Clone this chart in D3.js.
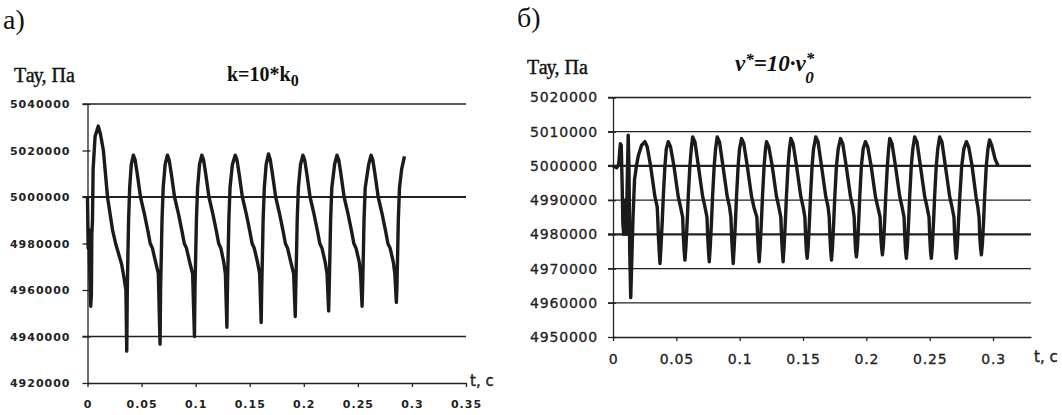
<!DOCTYPE html>
<html>
<head>
<meta charset="utf-8">
<script src="https://cdn.jsdelivr.net/npm/d3@7"></script>
<style>
  body { margin: 0; background: #fff; }
  svg { display: block; }
  .tickL text { font-family: "DejaVu Sans", sans-serif; font-weight: bold; font-size: 11px; letter-spacing: 1px; fill: #222; }
  .tickR text { font-family: "DejaVu Sans", sans-serif; font-size: 14px; letter-spacing: 0.8px; fill: #222; stroke: #222; stroke-width: 0.3px; }
  .serif { font-family: "Liberation Serif", "Times New Roman", serif; fill: #111; }
</style>
</head>
<body>
<svg id="chart" width="1062" height="415"></svg>
<script>
// left chart: k = 10*k0
var yTicksL = [4920000, 4940000, 4960000, 4980000, 5000000, 5020000, 5040000];
var gridL = [5040000, 5000000, 4940000];
var xTicksL = [0, 0.05, 0.1, 0.15, 0.2, 0.25, 0.3, 0.35];
var seriesL = [
  [0.0000, 5000000], [0.0006, 4978000], [0.0012, 4986000], [0.0020, 4970000], [0.0030, 4953000],
  [0.0036, 4958000], [0.0040, 4984000], [0.0046, 4990000], [0.0052, 5012000], [0.0070, 5026000],
  [0.0100, 5030500], [0.0120, 5027000], [0.0147, 5020000], [0.0185, 5000000], [0.0231, 4986000],
  [0.0260, 4980000], [0.0285, 4976000], [0.0316, 4971000], [0.0335, 4966000], [0.0355, 4960000],
  [0.0363, 4933700], [0.0368, 4960000], [0.0374, 4976000], [0.0380, 4990000], [0.0390, 5004000],
  [0.0405, 5014000], [0.0424, 5018000], [0.0440, 5016000], [0.0460, 5010000], [0.0490, 5000000],
  [0.0525, 4993000], [0.0560, 4985000], [0.0580, 4980000], [0.0600, 4978000], [0.0630, 4972000],
  [0.0655, 4967000], [0.0671, 4936700], [0.0676, 4961000], [0.0683, 4976000], [0.0689, 4990000],
  [0.0700, 5004000], [0.0718, 5014000], [0.0739, 5018000], [0.0755, 5016000], [0.0775, 5010000],
  [0.0805, 5000000], [0.0840, 4993000], [0.0875, 4985000], [0.0895, 4980000], [0.0915, 4978000],
  [0.0945, 4972000], [0.0972, 4967000], [0.0989, 4940000], [0.0994, 4961000], [0.1001, 4976000],
  [0.1007, 4990000], [0.1018, 5004000], [0.1036, 5014000], [0.1057, 5018000], [0.1073, 5016000],
  [0.1093, 5010000], [0.1123, 5000000], [0.1158, 4993000], [0.1193, 4985000], [0.1213, 4980000],
  [0.1233, 4978000], [0.1260, 4972000], [0.1275, 4967000], [0.1289, 4944000], [0.1294, 4961000],
  [0.1301, 4976000], [0.1307, 4990000], [0.1318, 5004000], [0.1340, 5014000], [0.1366, 5018000],
  [0.1382, 5016000], [0.1402, 5010000], [0.1432, 5000000], [0.1467, 4993000], [0.1502, 4985000],
  [0.1522, 4980000], [0.1542, 4978000], [0.1572, 4972000], [0.1592, 4967000], [0.1606, 4946000],
  [0.1611, 4961000], [0.1618, 4976000], [0.1624, 4990000], [0.1635, 5004000], [0.1652, 5014000],
  [0.1674, 5018500], [0.1690, 5016000], [0.1710, 5010000], [0.1740, 5000000], [0.1775, 4993000],
  [0.1810, 4985000], [0.1830, 4980000], [0.1850, 4978000], [0.1880, 4972000], [0.1906, 4967000],
  [0.1921, 4948600], [0.1926, 4961000], [0.1933, 4976000], [0.1939, 4990000], [0.1950, 5004000],
  [0.1970, 5014000], [0.1992, 5018000], [0.2008, 5016000], [0.2028, 5010000], [0.2058, 5000000],
  [0.2093, 4993000], [0.2128, 4985000], [0.2148, 4980000], [0.2168, 4978000], [0.2198, 4972000],
  [0.2215, 4967000], [0.2230, 4951000], [0.2235, 4961000], [0.2242, 4976000], [0.2248, 4990000],
  [0.2259, 5004000], [0.2285, 5014000], [0.2307, 5018000], [0.2323, 5016000], [0.2343, 5010000],
  [0.2373, 5000000], [0.2408, 4993000], [0.2443, 4985000], [0.2463, 4980000], [0.2483, 4978000],
  [0.2513, 4972000], [0.2525, 4967000], [0.2539, 4953000], [0.2544, 4961000], [0.2551, 4976000],
  [0.2557, 4990000], [0.2568, 5004000], [0.2600, 5014000], [0.2622, 5018000], [0.2638, 5016000],
  [0.2658, 5010000], [0.2688, 5000000], [0.2723, 4993000], [0.2758, 4985000], [0.2778, 4980000],
  [0.2798, 4978000], [0.2828, 4972000], [0.2842, 4967000], [0.2856, 4954700], [0.2861, 4961000],
  [0.2868, 4976000], [0.2874, 4990000], [0.2885, 5004000], [0.2905, 5012000], [0.2931, 5017500]
];

// right chart: nu* = 10*nu0*
var yTicksR = [4950000, 4960000, 4970000, 4980000, 4990000, 5000000, 5010000, 5020000];
var gridR = [4960000, 4970000, 4980000, 4990000, 5000000, 5010000, 5020000];
var gridBoldR = [5000000, 4980000];
var xTicksR = [0, 0.05, 0.1, 0.15, 0.2, 0.25, 0.3];
var seriesR = [
  [0.0000, 5000000], [0.0030, 4999500], [0.0045, 5000500], [0.0058, 5006500], [0.0065, 5006000],
  [0.0072, 4995000], [0.0078, 4983000], [0.0085, 4980000], [0.0092, 4990000], [0.0098, 4982000],
  [0.0105, 4980000], [0.0112, 4995000], [0.0120, 5009000], [0.0126, 5000000], [0.0132, 4975000],
  [0.0140, 4961500], [0.0148, 4972000], [0.0158, 4985000], [0.0170, 4996000], [0.0185, 5000000],
  [0.0200, 5003000], [0.0225, 5006000],
  [0.0252, 5007100], [0.0270, 5005600], [0.0297, 5000000], [0.0331, 4991000], [0.0349, 4988000],
  [0.0353, 4985000], [0.0359, 4979000], [0.0365, 4975000], [0.0371, 4971500], [0.0379, 4976500],
  [0.0389, 4984000], [0.0397, 4991000], [0.0410, 5000000], [0.0421, 5005000],
  [0.0436, 5007100], [0.0454, 5005600], [0.0481, 5000000], [0.0515, 4991000], [0.0533, 4988000],
  [0.0550, 4985000], [0.0556, 4979000], [0.0562, 4975000], [0.0568, 4972500], [0.0576, 4976500],
  [0.0586, 4984000], [0.0594, 4991000], [0.0607, 5000000], [0.0618, 5005000],
  [0.0629, 5008500], [0.0647, 5007000], [0.0674, 5000000], [0.0708, 4991000], [0.0726, 4988000],
  [0.0742, 4985000], [0.0748, 4979000], [0.0754, 4975000], [0.0760, 4972000], [0.0768, 4976500],
  [0.0778, 4984000], [0.0786, 4991000], [0.0799, 5000000], [0.0810, 5005000],
  [0.0823, 5008500], [0.0841, 5007000], [0.0868, 5000000], [0.0902, 4991000], [0.0920, 4988000],
  [0.0931, 4985000], [0.0937, 4979000], [0.0943, 4975000], [0.0949, 4971500], [0.0957, 4976500],
  [0.0967, 4984000], [0.0975, 4991000], [0.0988, 5000000], [0.0999, 5005000],
  [0.1015, 5008000], [0.1033, 5006500], [0.1060, 5000000], [0.1094, 4991000], [0.1112, 4988000],
  [0.1136, 4985000], [0.1142, 4979000], [0.1148, 4975000], [0.1154, 4972000], [0.1162, 4976500],
  [0.1172, 4984000], [0.1180, 4991000], [0.1193, 5000000], [0.1204, 5005000],
  [0.1212, 5007100], [0.1230, 5005600], [0.1257, 5000000], [0.1291, 4991000], [0.1309, 4988000],
  [0.1325, 4985000], [0.1331, 4979000], [0.1337, 4975000], [0.1343, 4972000], [0.1351, 4976500],
  [0.1361, 4984000], [0.1369, 4991000], [0.1382, 5000000], [0.1393, 5005000],
  [0.1404, 5008000], [0.1422, 5006500], [0.1449, 5000000], [0.1483, 4991000], [0.1501, 4988000],
  [0.1515, 4985000], [0.1521, 4979000], [0.1527, 4975000], [0.1533, 4973000], [0.1541, 4976500],
  [0.1551, 4984000], [0.1559, 4991000], [0.1572, 5000000], [0.1583, 5005000],
  [0.1601, 5008500], [0.1619, 5007000], [0.1646, 5000000], [0.1680, 4991000], [0.1698, 4988000],
  [0.1707, 4985000], [0.1713, 4979000], [0.1719, 4975000], [0.1725, 4972500], [0.1733, 4976500],
  [0.1743, 4984000], [0.1751, 4991000], [0.1764, 5000000], [0.1778, 5005000],
  [0.1796, 5008000], [0.1814, 5006500], [0.1841, 5000000], [0.1875, 4991000], [0.1893, 4988000],
  [0.1904, 4985000], [0.1910, 4979000], [0.1916, 4975000], [0.1922, 4973400], [0.1930, 4976500],
  [0.1940, 4984000], [0.1948, 4991000], [0.1961, 5000000], [0.1975, 5005000],
  [0.1993, 5007100], [0.2011, 5005600], [0.2038, 5000000], [0.2072, 4991000], [0.2090, 4988000],
  [0.2109, 4985000], [0.2115, 4979000], [0.2121, 4976000], [0.2127, 4974000], [0.2135, 4977000],
  [0.2145, 4984000], [0.2153, 4991000], [0.2166, 5000000], [0.2176, 5005000],
  [0.2185, 5008000], [0.2203, 5006500], [0.2230, 5000000], [0.2264, 4991000], [0.2282, 4988000],
  [0.2298, 4985000], [0.2304, 4979000], [0.2310, 4975000], [0.2316, 4973000], [0.2324, 4976500],
  [0.2334, 4984000], [0.2342, 4991000], [0.2355, 5000000], [0.2367, 5005000],
  [0.2382, 5008500], [0.2400, 5007000], [0.2427, 5000000], [0.2461, 4991000], [0.2479, 4988000],
  [0.2495, 4985000], [0.2501, 4979000], [0.2507, 4975000], [0.2513, 4973000], [0.2521, 4976500],
  [0.2531, 4984000], [0.2539, 4991000], [0.2552, 5000000], [0.2564, 5005000],
  [0.2579, 5008500], [0.2597, 5007000], [0.2624, 5000000], [0.2658, 4991000], [0.2676, 4988000],
  [0.2692, 4985000], [0.2698, 4979000], [0.2704, 4975000], [0.2710, 4973000], [0.2718, 4976500],
  [0.2728, 4984000], [0.2738, 4991000], [0.2753, 5000000], [0.2770, 5005000],
  [0.2790, 5007100], [0.2808, 5005600], [0.2835, 5000000], [0.2866, 4991000], [0.2880, 4988000],
  [0.2890, 4985000], [0.2896, 4979000], [0.2902, 4976000], [0.2908, 4974000], [0.2916, 4977000],
  [0.2926, 4984000], [0.2934, 4991000], [0.2947, 5000000], [0.2960, 5005000],
  [0.2973, 5007600], [0.2990, 5006000], [0.3017, 5002000], [0.3040, 5000000]
];

var svg = d3.select('#chart');
svg.append('rect').attr('width', 1062).attr('height', 415).attr('fill', '#fff');

function drawPanel(o) {
  var g = svg.append('g');
  var x = d3.scaleLinear().domain(o.xDomain).range(o.xRange);
  var y = d3.scaleLinear().domain(o.yDomain).range(o.yRange);

  // horizontal gridlines
  g.selectAll('line.grid').data(o.grid).enter().append('line')
    .attr('x1', o.xRange[0] - 5).attr('x2', o.xRange[1])
    .attr('y1', function(d){ return y(d); }).attr('y2', function(d){ return y(d); })
    .attr('stroke', '#222')
    .attr('stroke-width', function(d){ return o.bold.indexOf(d) >= 0 ? 2.2 : 1.3; });

  var ya = g.append('g').attr('class', o.cls)
    .attr('transform', 'translate(' + o.xRange[0] + ',0)')
    .call(d3.axisLeft(y).tickValues(o.yTicks).tickFormat(d3.format('d')).tickSizeInner(5).tickSizeOuter(0).tickPadding(o.yPad));
  ya.select('.domain').attr('stroke', '#222').attr('stroke-width', 1.3);
  ya.selectAll('.tick line').attr('stroke', '#222').attr('stroke-width', 1.3).attr('x2', -5).attr('x1', 3);

  var xa = g.append('g').attr('class', o.cls)
    .attr('transform', 'translate(0,' + o.yRange[0] + ')')
    .call(d3.axisBottom(x).tickValues(o.xTicks).tickFormat(d3.format('')).tickSizeInner(4).tickSizeOuter(0).tickPadding(o.xPad));
  xa.select('.domain').attr('stroke', '#222').attr('stroke-width', 1.6);
  xa.selectAll('.tick line').attr('stroke', '#222').attr('stroke-width', 1.3);

  var line = d3.line().x(function(d){ return x(d[0]); }).y(function(d){ return y(d[1]); });
  g.append('path').datum(o.series)
    .attr('d', line)
    .attr('fill', 'none')
    .attr('stroke', '#1b1b1b')
    .attr('stroke-width', 3.4)
    .attr('stroke-linejoin', 'round');
}

drawPanel({
  cls: 'tickL', xDomain: [0, 0.35], xRange: [87.5, 466], yDomain: [4920000, 5040000], yRange: [383, 104],
  grid: gridL, bold: [5000000], yTicks: yTicksL, xTicks: xTicksL, series: seriesL, yPad: 12, xPad: 13
});
drawPanel({
  cls: 'tickR', xDomain: [0, 0.33], xRange: [613, 1031], yDomain: [4950000, 5020000], yRange: [337, 97.5],
  grid: gridR, bold: gridBoldR, yTicks: yTicksR, xTicks: xTicksR, series: seriesR, yPad: 10, xPad: 13
});

// labels
svg.append('text').attr('class', 'serif').attr('x', 3).attr('y', 29).attr('font-size', 28).text('а)');
svg.append('text').attr('class', 'serif').attr('x', 517).attr('y', 27).attr('font-size', 28).text('б)');
svg.append('text').attr('class', 'serif').attr('x', 14).attr('y', 82).attr('font-size', 20)
  .attr('stroke', '#111').attr('stroke-width', 0.4).text('Тау, Па');
svg.append('text').attr('class', 'serif').attr('x', 527).attr('y', 74).attr('font-size', 20)
  .attr('stroke', '#111').attr('stroke-width', 0.4).text('Тау, Па');

var tl = svg.append('text').attr('class', 'serif').attr('x', 227).attr('y', 81).attr('font-size', 20).attr('font-weight', 'bold');
tl.append('tspan').text('k=10*k');
tl.append('tspan').attr('dy', 5).attr('font-size', 16).text('0');

var tr = svg.append('text').attr('class', 'serif').attr('x', 735).attr('y', 71).attr('font-size', 23)
  .attr('font-style', 'italic').attr('font-weight', 'bold');
tr.append('tspan').text('ν');
tr.append('tspan').attr('dy', -6).attr('font-size', 17).text('*');
tr.append('tspan').attr('dy', 6).text('=10·ν');
tr.append('tspan').attr('dy', -7).attr('font-size', 17).text('*');
tr.append('tspan').attr('dx', -9).attr('dy', 19).attr('font-size', 17).text('0');

svg.append('text').attr('x', 470).attr('y', 386).attr('font-family', 'DejaVu Sans, sans-serif')
  .attr('font-size', 15).attr('fill', '#222').attr('stroke', '#222').attr('stroke-width', 0.4).text('t, c');
svg.append('text').attr('x', 1034).attr('y', 362).attr('font-family', 'DejaVu Sans, sans-serif')
  .attr('font-size', 15).attr('fill', '#222').attr('stroke', '#222').attr('stroke-width', 0.4).text('t, c');
</script>
</body>
</html>
